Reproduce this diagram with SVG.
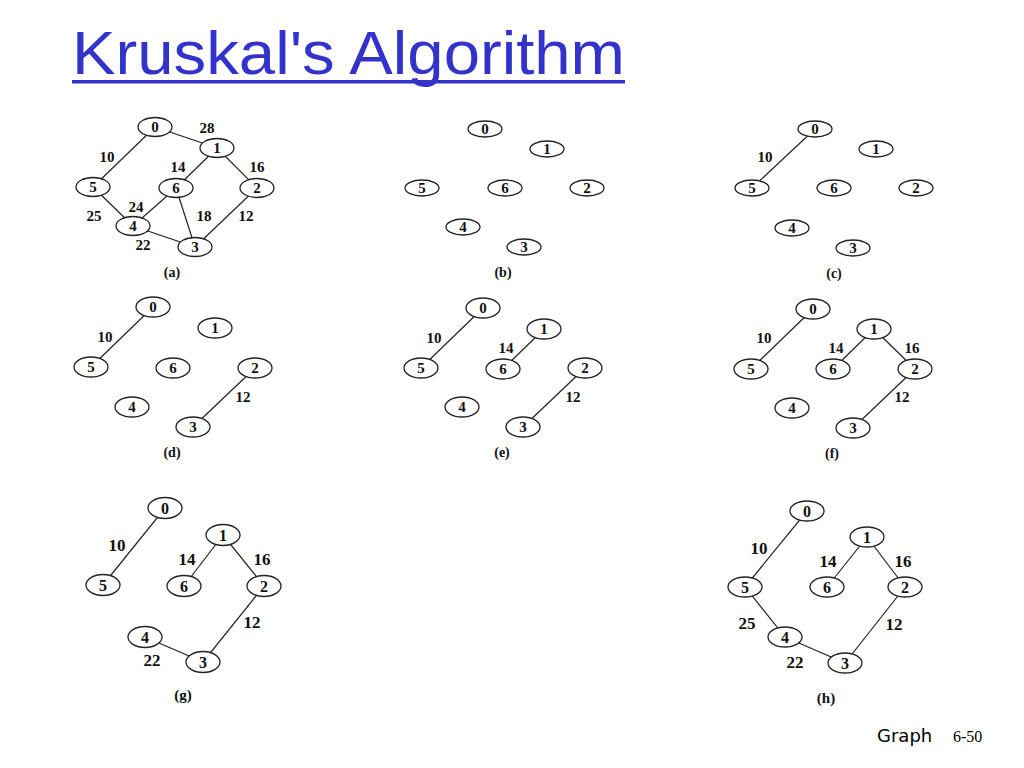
<svg xmlns="http://www.w3.org/2000/svg" width="1024" height="768" viewBox="0 0 1024 768">
<style>
.bg{fill:#ffffff}
.e{stroke:#222;stroke-width:1.2;fill:none}
.nd{fill:#fff;stroke:#222;stroke-width:1.3}
.n{font-family:"Liberation Serif","DejaVu Serif",serif;font-weight:bold;font-size:15px;fill:#111;text-anchor:middle}
.nb{font-family:"Liberation Serif","DejaVu Serif",serif;font-weight:bold;font-size:16px;fill:#111;text-anchor:middle}
.w{font-family:"Liberation Serif","DejaVu Serif",serif;font-weight:bold;font-size:15px;fill:#111;text-anchor:middle}
.wb{font-family:"Liberation Serif","DejaVu Serif",serif;font-weight:bold;font-size:17px;fill:#111;text-anchor:middle}
.cap{font-family:"Liberation Serif","DejaVu Serif",serif;font-weight:bold;font-size:14px;fill:#111;text-anchor:middle}
.title{font-family:"Liberation Sans","DejaVu Sans",sans-serif;font-size:62px;fill:#3333cc}
</style>
<rect class="bg" x="0" y="0" width="1024" height="768"/>
<text class="title" x="72" y="74" textLength="553" lengthAdjust="spacingAndGlyphs">Kruskal's Algorithm</text>
<rect x="72" y="80" width="553" height="3.5" fill="#3333cc"/>

<g id="connectors">
  <!-- (a) -->
  <line class="e" x1="155" y1="127" x2="217" y2="148"/>
  <line class="e" x1="155" y1="127" x2="93" y2="187"/>
  <line class="e" x1="217" y1="148" x2="176" y2="188"/>
  <line class="e" x1="217" y1="148" x2="257" y2="188"/>
  <line class="e" x1="93" y1="187" x2="133" y2="226"/>
  <line class="e" x1="176" y1="188" x2="133" y2="226"/>
  <line class="e" x1="176" y1="188" x2="195" y2="247"/>
  <line class="e" x1="257" y1="188" x2="195" y2="247"/>
  <line class="e" x1="133" y1="226" x2="195" y2="247"/>
  <text class="w" x="207" y="133">28</text>
  <text class="w" x="107" y="162">10</text>
  <text class="w" x="178" y="172">14</text>
  <text class="w" x="257" y="172">16</text>
  <text class="w" x="136" y="212">24</text>
  <text class="w" x="94" y="221">25</text>
  <text class="w" x="204" y="221">18</text>
  <text class="w" x="246" y="221">12</text>
  <text class="w" x="143" y="250">22</text>
  <!-- (c) -->
  <line class="e" x1="815" y1="129" x2="752" y2="188"/>
  <text class="w" x="765" y="162">10</text>
  <!-- (d) -->
  <line class="e" x1="153" y1="307" x2="91" y2="367"/>
  <line class="e" x1="255" y1="368" x2="193" y2="427"/>
  <text class="w" x="105" y="342">10</text>
  <text class="w" x="243" y="402">12</text>
  <!-- (e) -->
  <line class="e" x1="483" y1="308" x2="421" y2="368"/>
  <line class="e" x1="544" y1="329" x2="503" y2="369"/>
  <line class="e" x1="585" y1="368" x2="523" y2="427"/>
  <text class="w" x="434" y="343">10</text>
  <text class="w" x="506" y="353">14</text>
  <text class="w" x="573" y="402">12</text>
  <!-- (f) -->
  <line class="e" x1="813" y1="309" x2="751" y2="369"/>
  <line class="e" x1="874" y1="329" x2="833" y2="369"/>
  <line class="e" x1="874" y1="329" x2="915" y2="369"/>
  <line class="e" x1="915" y1="369" x2="853" y2="428"/>
  <text class="w" x="764" y="343">10</text>
  <text class="w" x="836" y="353">14</text>
  <text class="w" x="912" y="353">16</text>
  <text class="w" x="902" y="402">12</text>
  <!-- (g) -->
  <line class="e" x1="165" y1="508" x2="103" y2="585"/>
  <line class="e" x1="223" y1="535" x2="184" y2="586"/>
  <line class="e" x1="223" y1="535" x2="264" y2="586"/>
  <line class="e" x1="264" y1="586" x2="203" y2="662"/>
  <line class="e" x1="145" y1="637" x2="203" y2="662"/>
  <text class="wb" x="117" y="551">10</text>
  <text class="wb" x="187" y="565">14</text>
  <text class="wb" x="262" y="565">16</text>
  <text class="wb" x="252" y="628">12</text>
  <text class="wb" x="152" y="666">22</text>
  <!-- (h) -->
  <line class="e" x1="807" y1="511" x2="745" y2="587"/>
  <line class="e" x1="867" y1="537" x2="827" y2="587"/>
  <line class="e" x1="867" y1="537" x2="905" y2="587"/>
  <line class="e" x1="905" y1="587" x2="845" y2="663"/>
  <line class="e" x1="745" y1="587" x2="785" y2="637"/>
  <line class="e" x1="785" y1="637" x2="845" y2="663"/>
  <text class="wb" x="759" y="554">10</text>
  <text class="wb" x="828" y="567">14</text>
  <text class="wb" x="903" y="567">16</text>
  <text class="wb" x="747" y="629">25</text>
  <text class="wb" x="894" y="630">12</text>
  <text class="wb" x="795" y="668">22</text>
</g>

<!-- (a) nodes -->
<g id="a-n0"><ellipse class="nd" cx="155" cy="127" rx="17" ry="9.5"/><text class="n" x="155" y="132">0</text></g>
<g id="a-n1"><ellipse class="nd" cx="217" cy="148" rx="17" ry="9.5"/><text class="n" x="217" y="153">1</text></g>
<g id="a-n5"><ellipse class="nd" cx="93" cy="187" rx="17" ry="9.5"/><text class="n" x="93" y="192">5</text></g>
<g id="a-n6"><ellipse class="nd" cx="176" cy="188" rx="17" ry="9.5"/><text class="n" x="176" y="193">6</text></g>
<g id="a-n2"><ellipse class="nd" cx="257" cy="188" rx="17" ry="9.5"/><text class="n" x="257" y="193">2</text></g>
<g id="a-n4"><ellipse class="nd" cx="133" cy="226" rx="17" ry="9.5"/><text class="n" x="133" y="231">4</text></g>
<g id="a-n3"><ellipse class="nd" cx="195" cy="247" rx="17" ry="9.5"/><text class="n" x="195" y="252">3</text></g>
<text class="cap" x="172" y="277">(a)</text>

<!-- (b) nodes -->
<g id="b-n0"><ellipse class="nd" cx="485" cy="129" rx="17" ry="8"/><text class="n" x="485" y="134">0</text></g>
<g id="b-n1"><ellipse class="nd" cx="547" cy="149" rx="17" ry="8"/><text class="n" x="547" y="154">1</text></g>
<g id="b-n5"><ellipse class="nd" cx="422" cy="188" rx="17" ry="8"/><text class="n" x="422" y="193">5</text></g>
<g id="b-n6"><ellipse class="nd" cx="505" cy="188" rx="17" ry="8"/><text class="n" x="505" y="193">6</text></g>
<g id="b-n2"><ellipse class="nd" cx="587" cy="188" rx="17" ry="8"/><text class="n" x="587" y="193">2</text></g>
<g id="b-n4"><ellipse class="nd" cx="463" cy="227" rx="17" ry="8"/><text class="n" x="463" y="232">4</text></g>
<g id="b-n3"><ellipse class="nd" cx="524" cy="247" rx="17" ry="8"/><text class="n" x="524" y="252">3</text></g>
<text class="cap" x="503" y="277">(b)</text>

<!-- (c) nodes -->
<g id="c-n0"><ellipse class="nd" cx="815" cy="129" rx="17" ry="8"/><text class="n" x="815" y="134">0</text></g>
<g id="c-n1"><ellipse class="nd" cx="876" cy="149" rx="17" ry="8"/><text class="n" x="876" y="154">1</text></g>
<g id="c-n5"><ellipse class="nd" cx="752" cy="188" rx="17" ry="8"/><text class="n" x="752" y="193">5</text></g>
<g id="c-n6"><ellipse class="nd" cx="834" cy="188" rx="17" ry="8"/><text class="n" x="834" y="193">6</text></g>
<g id="c-n2"><ellipse class="nd" cx="916" cy="188" rx="17" ry="8"/><text class="n" x="916" y="193">2</text></g>
<g id="c-n4"><ellipse class="nd" cx="792" cy="228" rx="17" ry="8"/><text class="n" x="792" y="233">4</text></g>
<g id="c-n3"><ellipse class="nd" cx="853" cy="248" rx="17" ry="8"/><text class="n" x="853" y="253">3</text></g>
<text class="cap" x="834" y="278">(c)</text>

<!-- (d) nodes -->
<g id="d-n0"><ellipse class="nd" cx="153" cy="307" rx="17" ry="10"/><text class="n" x="153" y="312">0</text></g>
<g id="d-n1"><ellipse class="nd" cx="215" cy="328" rx="17" ry="10"/><text class="n" x="215" y="333">1</text></g>
<g id="d-n5"><ellipse class="nd" cx="91" cy="367" rx="17" ry="10"/><text class="n" x="91" y="372">5</text></g>
<g id="d-n6"><ellipse class="nd" cx="173" cy="368" rx="17" ry="10"/><text class="n" x="173" y="373">6</text></g>
<g id="d-n2"><ellipse class="nd" cx="255" cy="368" rx="17" ry="10"/><text class="n" x="255" y="373">2</text></g>
<g id="d-n4"><ellipse class="nd" cx="132" cy="407" rx="17" ry="10"/><text class="n" x="132" y="412">4</text></g>
<g id="d-n3"><ellipse class="nd" cx="193" cy="427" rx="17" ry="10"/><text class="n" x="193" y="432">3</text></g>
<text class="cap" x="172" y="457">(d)</text>

<!-- (e) nodes -->
<g id="e-n0"><ellipse class="nd" cx="483" cy="308" rx="17" ry="10"/><text class="n" x="483" y="313">0</text></g>
<g id="e-n1"><ellipse class="nd" cx="544" cy="329" rx="17" ry="10"/><text class="n" x="544" y="334">1</text></g>
<g id="e-n5"><ellipse class="nd" cx="421" cy="368" rx="17" ry="10"/><text class="n" x="421" y="373">5</text></g>
<g id="e-n6"><ellipse class="nd" cx="503" cy="369" rx="17" ry="10"/><text class="n" x="503" y="374">6</text></g>
<g id="e-n2"><ellipse class="nd" cx="585" cy="368" rx="17" ry="10"/><text class="n" x="585" y="373">2</text></g>
<g id="e-n4"><ellipse class="nd" cx="462" cy="407" rx="17" ry="10"/><text class="n" x="462" y="412">4</text></g>
<g id="e-n3"><ellipse class="nd" cx="523" cy="427" rx="17" ry="10"/><text class="n" x="523" y="432">3</text></g>
<text class="cap" x="502" y="457">(e)</text>

<!-- (f) nodes -->
<g id="f-n0"><ellipse class="nd" cx="813" cy="309" rx="17" ry="10"/><text class="n" x="813" y="314">0</text></g>
<g id="f-n1"><ellipse class="nd" cx="874" cy="329" rx="17" ry="10"/><text class="n" x="874" y="334">1</text></g>
<g id="f-n5"><ellipse class="nd" cx="751" cy="369" rx="17" ry="10"/><text class="n" x="751" y="374">5</text></g>
<g id="f-n6"><ellipse class="nd" cx="833" cy="369" rx="17" ry="10"/><text class="n" x="833" y="374">6</text></g>
<g id="f-n2"><ellipse class="nd" cx="915" cy="369" rx="17" ry="10"/><text class="n" x="915" y="374">2</text></g>
<g id="f-n4"><ellipse class="nd" cx="792" cy="408" rx="17" ry="10"/><text class="n" x="792" y="413">4</text></g>
<g id="f-n3"><ellipse class="nd" cx="853" cy="428" rx="17" ry="10"/><text class="n" x="853" y="433">3</text></g>
<text class="cap" x="832" y="458">(f)</text>

<!-- (g) nodes -->
<g id="g-n0"><ellipse class="nd" cx="165" cy="508" rx="17" ry="10.5"/><text class="nb" x="165" y="514">0</text></g>
<g id="g-n1"><ellipse class="nd" cx="223" cy="535" rx="17" ry="10.5"/><text class="nb" x="223" y="541">1</text></g>
<g id="g-n5"><ellipse class="nd" cx="103" cy="585" rx="17" ry="10.5"/><text class="nb" x="103" y="591">5</text></g>
<g id="g-n6"><ellipse class="nd" cx="184" cy="586" rx="17" ry="10.5"/><text class="nb" x="184" y="592">6</text></g>
<g id="g-n2"><ellipse class="nd" cx="264" cy="586" rx="17" ry="10.5"/><text class="nb" x="264" y="592">2</text></g>
<g id="g-n4"><ellipse class="nd" cx="145" cy="637" rx="17" ry="10.5"/><text class="nb" x="145" y="643">4</text></g>
<g id="g-n3"><ellipse class="nd" cx="203" cy="662" rx="17" ry="10.5"/><text class="nb" x="203" y="668">3</text></g>
<text class="cap" x="183" y="700" style="font-size:15px">(g)</text>

<!-- (h) nodes -->
<g id="h-n0"><ellipse class="nd" cx="807" cy="511" rx="17" ry="10"/><text class="nb" x="807" y="517">0</text></g>
<g id="h-n1"><ellipse class="nd" cx="867" cy="537" rx="17" ry="10"/><text class="nb" x="867" y="543">1</text></g>
<g id="h-n5"><ellipse class="nd" cx="745" cy="587" rx="17" ry="10"/><text class="nb" x="745" y="593">5</text></g>
<g id="h-n6"><ellipse class="nd" cx="827" cy="587" rx="17" ry="10"/><text class="nb" x="827" y="593">6</text></g>
<g id="h-n2"><ellipse class="nd" cx="905" cy="587" rx="17" ry="10"/><text class="nb" x="905" y="593">2</text></g>
<g id="h-n4"><ellipse class="nd" cx="785" cy="637" rx="17" ry="10"/><text class="nb" x="785" y="643">4</text></g>
<g id="h-n3"><ellipse class="nd" cx="845" cy="663" rx="17" ry="10"/><text class="nb" x="845" y="669">3</text></g>
<text class="cap" x="826" y="703" style="font-size:15px">(h)</text>

<text x="877" y="742" style="font-family:'DejaVu Sans','Liberation Sans',sans-serif;font-size:18px;fill:#000">Graph</text>
<text x="953" y="742" style="font-family:'Liberation Serif','DejaVu Serif',serif;font-size:16px;fill:#000">6-50</text>
</svg>
